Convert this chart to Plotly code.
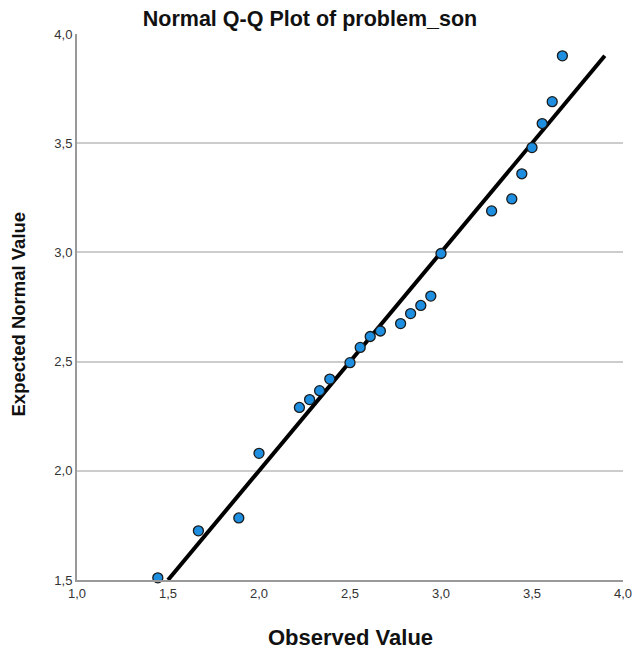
import plotly.graph_objects as go

observed = [1.444, 1.667, 1.889, 2.0, 2.222, 2.278, 2.333, 2.389, 2.5, 2.556, 2.611, 2.667,
            2.778, 2.833, 2.889, 2.944, 3.0, 3.278, 3.389, 3.444, 3.5, 3.556, 3.611, 3.667]
expected = [1.51, 1.725, 1.784, 2.08, 2.29, 2.326, 2.367, 2.42, 2.495, 2.565, 2.615, 2.64,
            2.674, 2.72, 2.757, 2.80, 2.995, 3.19, 3.245, 3.36, 3.48, 3.59, 3.69, 3.90]
ref_line_x = [1.5, 3.9]
ref_line_y = [1.5, 3.9]
x_ticks = [1.0, 1.5, 2.0, 2.5, 3.0, 3.5, 4.0]
y_ticks = [1.5, 2.0, 2.5, 3.0, 3.5, 4.0]

W, H = 634, 650
L, R, T, B = 77, 11, 34, 70
PW, PH = W - L - R, H - T - B

fig = go.Figure()
fig.add_trace(go.Scatter(x=ref_line_x, y=ref_line_y, mode="lines",
                         line=dict(color="black", width=4), hoverinfo="skip",
                         showlegend=False))
fig.add_trace(go.Scatter(x=observed, y=expected, mode="markers",
                         marker=dict(color="#1E8FE0", size=10,
                                     line=dict(color="#1a1a1a", width=1.3)),
                         cliponaxis=False, showlegend=False))

fig.update_layout(
    width=W, height=H,
    margin=dict(l=L, r=R, t=T, b=B),
    paper_bgcolor="white", plot_bgcolor="white",
    separators=", ",
    font=dict(family="Liberation Sans, Arial, sans-serif", color="#222"),
    title=dict(text="<b>Normal Q-Q Plot of problem_son</b>", x=310 / W, xanchor="center",
               xref="container", yref="container",
               y=1 - 18 / H, yanchor="middle", font=dict(size=21.5, color="#111")),
    xaxis=dict(range=[1.0, 4.0], tickvals=x_ticks, tickformat=".1f", automargin=False,
               showgrid=False, zeroline=False, showline=True, linecolor="#999999",
               linewidth=2, ticks="", tickfont=dict(size=13, color="#333")),
    yaxis=dict(range=[1.5, 4.0], tickvals=y_ticks, tickformat=".1f", automargin=False,
               showgrid=True, gridcolor="#cccccc", gridwidth=1.5, zeroline=False,
               showline=True, linecolor="#999999", linewidth=2, ticks="",
               tickfont=dict(size=13, color="#333")),
    annotations=[
        dict(text="<b>Observed Value</b>", xref="paper", yref="paper", x=0.5,
             y=-(637 - (H - B)) / PH,
             xanchor="center", yanchor="middle", showarrow=False,
             font=dict(size=22, color="#111")),
        dict(text="<b>Expected Normal Value</b>", xref="paper", yref="paper",
             x=(17.5 - L) / PW, y=1 - (314 - T) / PH,
             xanchor="center", yanchor="middle", textangle=-90, showarrow=False,
             font=dict(size=18.5, color="#111")),
    ],
)

fig.write_html("out.html",
               config={"displayModeBar": False},
               post_script="document.body.style.margin='0';"
                           "document.body.style.overflow='hidden';")
